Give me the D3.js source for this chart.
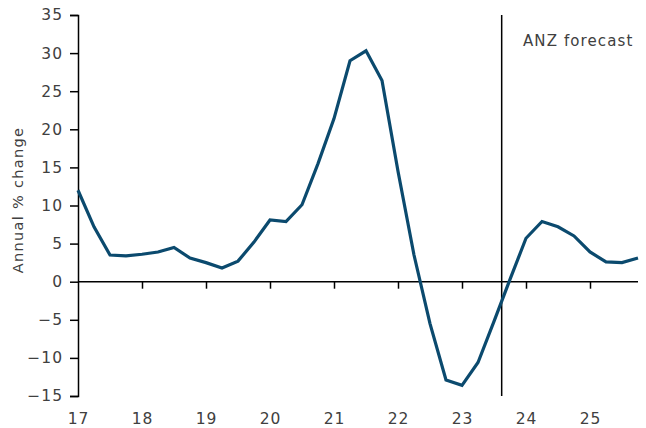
<!DOCTYPE html>
<html>
<head>
<meta charset="utf-8">
<script src="https://cdn.jsdelivr.net/npm/d3@7"></script>
<style>
  body { margin: 0; background: #fff; }
  svg text { font-family: "DejaVu Sans", sans-serif; fill: #404040; }
</style>
</head>
<body>
<div class="viz"></div>
<script>
const width = 646;
const height = 428;

// quarterly, year as decimal (17 = 2017)
const quarters = [
  17.0, 17.25, 17.5, 17.75, 18.0, 18.25, 18.5, 18.75,
  19.0, 19.25, 19.5, 19.75, 20.0, 20.25, 20.5, 20.75,
  21.0, 21.25, 21.5, 21.75, 22.0, 22.25, 22.5, 22.75,
  23.0, 23.25, 23.5, 23.75, 24.0, 24.25, 24.5, 24.75,
  25.0, 25.25, 25.5, 25.75
];
const annualChange = [
  12.0, 7.2, 3.5, 3.4, 3.6, 3.9, 4.5, 3.1,
  2.5, 1.8, 2.7, 5.2, 8.1, 7.9, 10.1, 15.5,
  21.4, 29.0, 30.3, 26.4, 14.5, 3.5, -5.5, -12.9,
  -13.6, -10.6, -5.2, 0.3, 5.7, 7.9, 7.2, 6.0,
  3.9, 2.6, 2.5, 3.1
];
const yTicks = [-15, -10, -5, 0, 5, 10, 15, 20, 25, 30, 35];
const xTicks = [17, 18, 19, 20, 21, 22, 23, 24, 25];
const forecastStart = 23.62;

const margin = { top: 15, right: 8, bottom: 32, left: 78 };

const svg = d3.select(".viz")
  .append("svg")
  .attr("width", width)
  .attr("height", height);

const x = d3.scaleLinear()
  .domain([17, 25.75])
  .range([margin.left, margin.left + 64 * 8.75]);

const y = d3.scaleLinear()
  .domain([-15, 35])
  .range([height - margin.bottom, margin.top]);

// y axis
const yAxis = svg.append("g")
  .attr("class", "y-axis")
  .attr("transform", `translate(${margin.left}, 0)`)
  .call(d3.axisLeft(y).tickValues(yTicks).tickSize(8).tickPadding(7).tickFormat(d3.format("d")));
yAxis.select(".domain").attr("stroke", "#000").attr("stroke-width", 1.5);
yAxis.selectAll(".tick line").attr("stroke", "#000").attr("stroke-width", 1.5);
yAxis.selectAll("text")
  .style("font-size", "15.5px")
  .style("letter-spacing", "1px")
  .attr("fill", "#404040");

// zero line with x ticks
svg.append("line")
  .attr("x1", x(17)).attr("x2", x(25.75))
  .attr("y1", y(0)).attr("y2", y(0))
  .attr("stroke", "#000").attr("stroke-width", 1.5);

const xAxis = svg.append("g")
  .attr("class", "x-axis")
  .attr("transform", `translate(0, ${y(0)})`)
  .call(d3.axisBottom(x).tickValues(xTicks).tickSize(7).tickFormat(""));
xAxis.select(".domain").remove();
xAxis.selectAll(".tick line")
  .attr("stroke", "#000").attr("stroke-width", 1.5)
  .attr("display", d => d === 17 ? "none" : null);

// x tick labels at the bottom
svg.append("g")
  .selectAll("text")
  .data(xTicks)
  .join("text")
  .attr("x", d => x(d) + 0.5)
  .attr("y", 424)
  .attr("text-anchor", "middle")
  .style("font-size", "15.5px")
  .style("letter-spacing", "1px")
  .text(d => d);

// forecast divider
svg.append("line")
  .attr("x1", x(forecastStart)).attr("x2", x(forecastStart))
  .attr("y1", y(35)).attr("y2", y(-15))
  .attr("stroke", "#000").attr("stroke-width", 1.5);

svg.append("text")
  .attr("x", 523)
  .attr("y", 46)
  .style("font-size", "15px")
  .style("letter-spacing", "1.1px")
  .text("ANZ forecast");

// series
const line = d3.line()
  .x((d, i) => x(quarters[i]))
  .y(d => y(d));

svg.append("path")
  .datum(annualChange)
  .attr("fill", "none")
  .attr("stroke", "#0b4a6e")
  .attr("stroke-width", 3.2)
  .attr("stroke-linejoin", "miter")
  .attr("d", line);

// y label
svg.append("text")
  .attr("transform", "translate(23, 200) rotate(-90)")
  .attr("text-anchor", "middle")
  .style("font-size", "14.5px")
  .style("letter-spacing", "1.3px")
  .text("Annual % change");
</script>
</body>
</html>
